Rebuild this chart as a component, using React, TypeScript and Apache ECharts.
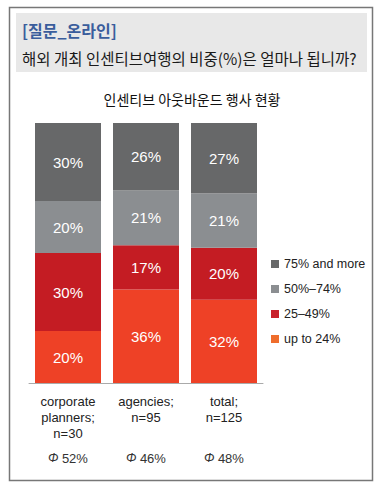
import React, { useEffect, useRef } from "react";
import * as echarts from "echarts";

const categories = ["corporate\nplanners;\nn=30", "agencies;\nn=95", "total;\nn=125"];
const averages = ["52%", "46%", "48%"];
const seriesNames = ["up to 24%", "25–49%", "50%–74%", "75% and more"];
const upTo24 = [20, 36, 32];
const from25to49 = [30, 17, 20];
const from50to74 = [20, 21, 21];
const over75 = [30, 26, 27];
const colors = ["#ee4126", "#c41c23", "#8b8e91", "#676869"];
const legendColors = ["#ef6d2c", "#c8202b", "#8b8e91", "#676869"];

const LATIN = "'Liberation Sans', Arial, sans-serif";
const KR = "'Noto Sans CJK KR', 'Noto Sans', sans-serif";

export default function App() {
  const ref = useRef<HTMLDivElement>(null);
  useEffect(() => {
    if (!ref.current) return;
    const chart = echarts.init(ref.current, null, { renderer: "svg" });
    const values = [upTo24, from25to49, from50to74, over75];
    const series = values.map((vals, i) => ({
      name: seriesNames[i],
      type: "bar",
      stack: "total",
      barWidth: 66,
      xAxisIndex: 0,
      data: vals,
      itemStyle: { color: colors[i] },
      label: {
        show: true,
        position: "inside",
        color: "#fff",
        fontSize: 15,
        fontFamily: LATIN,
        formatter: (p: any) => p.value + "%",
      },
    }));
    chart.setOption({
      animation: false,
      backgroundColor: "#fff",
      title: {
        text: "인센티브 아웃바운드 행사 현황",
        left: 187,
        textAlign: "center",
        top: 87,
        textStyle: { fontFamily: KR, fontSize: 14, fontWeight: "normal", color: "#111" },
      },
      legend: {
        orient: "vertical",
        left: 271,
        top: 257,
        padding: 0,
        itemWidth: 8,
        itemHeight: 8,
        itemGap: 11,
        icon: "rect",
        textStyle: { fontFamily: LATIN, fontSize: 12.5, color: "#222", lineHeight: 14 },
        data: [3, 2, 1, 0].map((i) => ({ name: seriesNames[i], itemStyle: { color: legendColors[i] } })),
      },
      grid: { left: 29, width: 234, top: 123, bottom: 109 },
      xAxis: [
        {
          type: "category",
          data: categories,
          axisLine: { lineStyle: { color: "#aaaaaa", width: 1 } },
          axisTick: { show: false },
          axisLabel: {
            interval: 0,
            margin: 11,
            fontFamily: LATIN,
            fontSize: 13,
            lineHeight: 15.8,
            color: "#222",
          },
        },
        {
          type: "category",
          position: "bottom",
          offset: 60,
          data: averages,
          axisLine: { show: false },
          axisTick: { show: false },
          axisLabel: {
            interval: 0,
            margin: 8,
            lineHeight: 14,
            formatter: (v: string) => "{phi|Φ} {v|" + v + "}",
            rich: {
              phi: { fontFamily: LATIN, fontStyle: "italic", fontSize: 12.5, color: "#333" },
              v: { fontFamily: LATIN, fontSize: 13, color: "#333" },
            },
          },
        },
      ],
      yAxis: { type: "value", min: 0, max: 100, show: false },
      graphic: [
        {
          type: "rect",
          shape: { x: 9.5, y: 7.5, width: 363, height: 473 },
          style: { fill: "none", stroke: "#777", lineWidth: 1.5 },
          z: -1,
        },
        {
          type: "rect",
          shape: { x: 16, y: 13, width: 351, height: 59 },
          style: { fill: "#e8e8e8" },
          z: -1,
        },
        {
          type: "text",
          x: 22,
          y: 30,
          style: {
            text: "[질문_온라인]",
            fontFamily: KR,
            fontSize: 16,
            fontWeight: "bold",
            fill: "#3a5d9c",
            textVerticalAlign: "middle",
          },
        },
        {
          type: "text",
          x: 22,
          y: 58,
          style: {
            text: "해외 개최 인센티브여행의 비중(%)은 얼마나 됩니까?",
            fontFamily: KR,
            fontSize: 15.5,
            fill: "#1a1a1a",
            textVerticalAlign: "middle",
          },
        },
      ],
      series,
    });
    return () => chart.dispose();
  }, []);
  return (
    <div
      ref={ref}
      style={{ position: "fixed", left: 0, top: 0, width: 382, height: 492 }}
    />
  );
}
